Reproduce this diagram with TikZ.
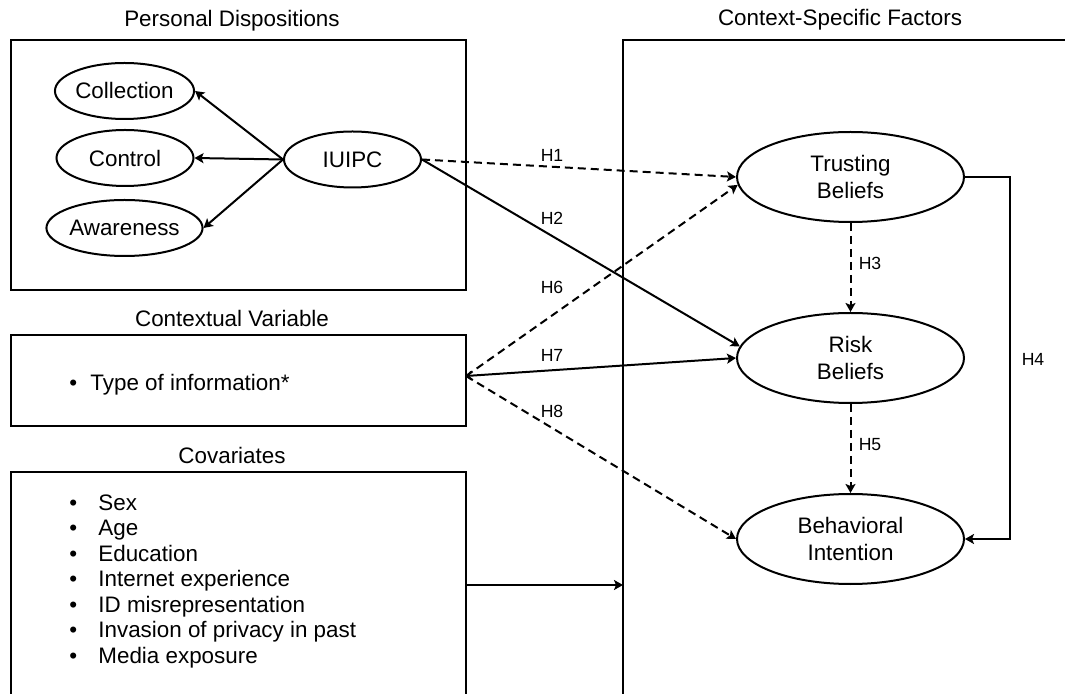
\documentclass[tikz,border=0pt]{standalone}
\usepackage{fontspec}
\setmainfont{Liberation Sans}
\usetikzlibrary{arrows.meta,shapes.geometric}
\begin{document}
\begin{tikzpicture}[x=0.5pt,y=-0.5pt,
  every node/.style={font=\fontsize{11.2}{13.5}\selectfont},
  lw/.style={line width=1pt},
  ell/.style={draw, ellipse, line width=1pt, inner sep=0pt},
  sm/.style={ell, minimum width=68.5pt, minimum height=28pt},
  big/.style={ell, minimum width=113.5pt, minimum height=45pt, align=center},
  box/.style={draw, line width=1pt, inner sep=0pt, minimum width=227.5pt},
  arr/.style={line width=1pt, -{Stealth[length=4.5pt,width=5pt,inset=1pt]}},
  dsh/.style={arr, dash pattern=on 4pt off 2.5pt},
  barb/.style={line width=1pt, {Straight Barb[length=2pt,width=4pt]}-{Stealth[length=4.5pt,width=5pt,inset=1pt]}},
  hl/.style={font=\fontsize{8.8}{10}\selectfont, inner sep=1pt}]
\useasboundingbox (0,0) rectangle (1065,694);
\clip (0,0) rectangle (1065,694);

% titles
\node (tpd) at (232,21) {Personal Dispositions};
\node (tcv) at (232,318) {Contextual Variable};
\node (tco) at (232,455) {Covariates};
\node (tcs) at (840,20) {Context-Specific Factors};

% boxes
\node[box, minimum height=125pt] (pd) at (238.5,165) {};
\node[box, minimum height=45.5pt] (cv) at (238.5,380.5) {};
\draw[lw] (11,710) -- (11,472) -- (466,472) -- (466,710);
\draw[lw] (1075,40) -- (623,40) -- (623,710);
\coordinate (coR) at (466,585);
\coordinate (csL) at (623,585);
\coordinate (cvp) at (466,376);
\coordinate (h4c) at (1010,358);

% ellipses
\node[sm] (col) at (124.5,91) {Collection};
\node[sm] (con) at (125,158) {Control};
\node[sm] (awa) at (124.5,228) {Awareness};
\node[sm] (iui) at (352.5,159.5) {IUIPC};
\node[big] (tru) at (850.5,177) {Trusting\\Beliefs};
\node[big] (ris) at (850.5,358) {Risk\\Beliefs};
\node[big] (beh) at (850.5,539) {Behavioral\\Intention};

% lists
\node[anchor=west, inner sep=0pt] (cvl) at (69,385) {\makebox[10.5pt][l]{•}Type of information*};
\node[anchor=west, inner sep=0pt, align=left, font=\fontsize{11.2}{12.75}\selectfont] (covl) at (69,581.5)
  {\makebox[14.5pt][l]{•}Sex\\
   \makebox[14.5pt][l]{•}Age\\
   \makebox[14.5pt][l]{•}Education\\
   \makebox[14.5pt][l]{•}Internet experience\\
   \makebox[14.5pt][l]{•}ID misrepresentation\\
   \makebox[14.5pt][l]{•}Invasion of privacy in past\\
   \makebox[14.5pt][l]{•}Media exposure};

% connectors
\draw[arr] (iui.west) -- (col.east);
\draw[arr] (iui.west) -- (con.east);
\draw[arr] (iui.west) -- (awa.east);
\draw[dsh] (iui.east) -- (tru.west);
\draw[arr] (iui.east) -- (ris.174);
\draw[dsh] (cvp) -- (tru.184);
\draw[barb] (cvp) -- (ris.west);
\draw[dsh] (cvp) -- (beh.west);
\draw[dsh] (tru.south) -- (ris.north);
\draw[dsh] (ris.south) -- (beh.north);
\draw[arr] (tru.east) -| (h4c) |- (beh.east);
\draw[arr] (coR) -- (csL);

% labels
\node[hl] (l1) at (552,155) {H1};
\node[hl] (l2) at (552,218) {H2};
\node[hl] (l6) at (552,287) {H6};
\node[hl] (l7) at (552,355) {H7};
\node[hl] (l8) at (552,411) {H8};
\node[hl] (l3) at (870,263) {H3};
\node[hl] (l5) at (870,445) {H5};
\node[hl] (l4) at (1033,359) {H4};
\end{tikzpicture}
\end{document}
